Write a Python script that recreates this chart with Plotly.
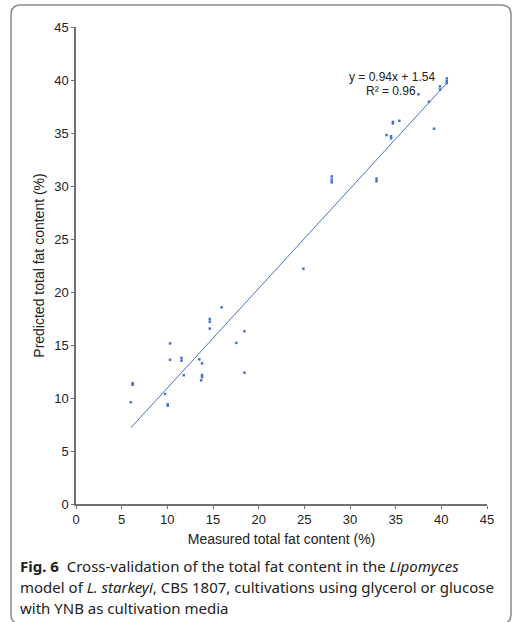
import plotly.graph_objects as go

measured = [6.0, 6.2, 6.2, 9.75, 10.05, 10.05, 10.3, 10.3, 11.55, 11.55, 11.8, 13.5, 13.8, 13.8,
            13.8, 13.7, 14.65, 14.65, 14.65, 15.95, 17.55, 18.45, 18.45, 24.9, 28.0, 28.0, 28.0,
            32.9, 32.9, 34.0, 34.5, 34.5, 34.7, 34.7, 35.4, 37.5, 38.65, 39.2, 39.85, 39.85,
            40.6, 40.6, 40.6]
predicted = [9.6, 11.4, 11.25, 10.38, 9.4, 9.28, 15.15, 13.6, 13.78, 13.52, 12.15, 13.65, 13.27,
             12.17, 11.98, 11.67, 17.45, 17.2, 16.55, 18.55, 15.2, 16.3, 12.39, 22.2, 30.9, 30.6,
             30.35, 30.7, 30.45, 34.8, 34.7, 34.5, 36.05, 35.9, 36.15, 38.65, 37.95, 35.4, 39.4,
             39.1, 40.15, 39.9, 39.7]

slope = 0.94
intercept = 1.54
trend_x = [6.0, 40.6]
trend_y = [slope * v + intercept for v in trend_x]

x_ticks = [0, 5, 10, 15, 20, 25, 30, 35, 40, 45]
y_ticks = [0, 5, 10, 15, 20, 25, 30, 35, 40, 45]

W, H = 516, 622
ML, MR, MT, MB = 76, 29, 27, 118
PW, PH = W - ML - MR, H - MT - MB

def px(x):
    return (x - ML) / PW

def py(y):
    return (H - MB - y) / PH

blue = "#4472c4"
axis_col = "#707070"
helv = "Liberation Sans"

fig = go.Figure()
fig.add_trace(go.Scatter(x=trend_x, y=trend_y, mode="lines",
                         line=dict(color=blue, width=1), hoverinfo="skip", showlegend=False))
fig.add_trace(go.Scatter(x=measured, y=predicted, mode="markers",
                         marker=dict(symbol="square", size=2.5, color=blue, line=dict(width=0)),
                         showlegend=False))

tick_font = dict(family=helv, size=13, color="#222")
fig.update_xaxes(range=[0, 45], tickvals=x_ticks, showline=True, linecolor=axis_col, linewidth=1.5,
                 ticks="outside", ticklen=3, tickcolor=axis_col, showgrid=False, zeroline=False,
                 tickfont=tick_font,
                 title=dict(text="Measured total fat content (%)", standoff=8,
                            font=dict(family=helv, size=14, color="#222")))
fig.update_yaxes(range=[0, 45], tickvals=y_ticks, showline=True, linecolor=axis_col, linewidth=1.5,
                 ticks="outside", ticklen=3, tickcolor=axis_col, showgrid=False, zeroline=False,
                 tickfont=tick_font,
                 title=dict(text="Predicted total fat content (%)", standoff=6,
                            font=dict(family=helv, size=14, color="#222")))

eq_font = dict(family=helv, size=12, color="#222")
annotations = [
    dict(x=px(392), y=py(77), xref="paper", yref="paper", text="y = 0.94x + 1.54",
         showarrow=False, font=eq_font, xanchor="center", yanchor="middle"),
    dict(x=px(391), y=py(91), xref="paper", yref="paper", text="R² = 0.96",
         showarrow=False, font=eq_font, xanchor="center", yanchor="middle"),
]
cap_font = dict(family="Noto Sans", size=15, color="#222")
cap_lines = [
    "<b>Fig. 6</b>  Cross-validation of the total fat content in the <i>Lipomyces</i>",
    "model of <i>L. starkeyi</i>, CBS 1807, cultivations using glycerol or glucose",
    "with YNB as cultivation media",
]
for i, t in enumerate(cap_lines):
    annotations.append(dict(x=px(18), y=py(566 + 21 * i), xref="paper", yref="paper", text=t,
                            showarrow=False, font=cap_font, xanchor="left", yanchor="middle"))

# rounded frame
L, R, T, B, r = 11, 511, 5, 624, 10
path = (f"M {px(L)},{py(T + r)} Q {px(L)},{py(T)} {px(L + r)},{py(T)} "
        f"L {px(R - r)},{py(T)} Q {px(R)},{py(T)} {px(R)},{py(T + r)} "
        f"L {px(R)},{py(B - r)} Q {px(R)},{py(B)} {px(R - r)},{py(B)} "
        f"L {px(L + r)},{py(B)} Q {px(L)},{py(B)} {px(L)},{py(B - r)} Z")

fig.update_layout(
    width=W, height=H, margin=dict(l=ML, r=MR, t=MT, b=MB),
    paper_bgcolor="white", plot_bgcolor="white",
    annotations=annotations,
    shapes=[dict(type="path", path=path, xref="paper", yref="paper",
                 line=dict(color="#8a8a8a", width=1.5), layer="below")],
)

fig.write_html("out.html")
